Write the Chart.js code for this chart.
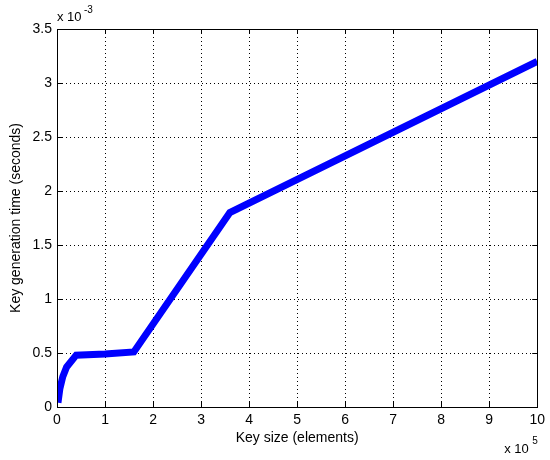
<!DOCTYPE html>
<html>
<head>
<meta charset="utf-8">
<script src="https://cdn.jsdelivr.net/npm/chart.js@4.4.0/dist/chart.umd.min.js"></script>
<style>
    html, body { margin: 0; padding: 0; background: #fff; }
    #wrap { width: 550px; height: 460px; }
</style>
</head>
<body>
<div id="wrap"><canvas id="chartCanvas" width="550" height="460"></canvas></div>
<script>
// Key size in units of 1e5 elements, time in units of 1e-3 seconds
const keySize = [0.02, 0.06, 0.12, 0.2, 0.4, 1.0, 1.6, 3.6, 10];
const genTime = [0.04, 0.17, 0.28, 0.37, 0.48, 0.49, 0.51, 1.8, 3.2];
const xTicks = [0, 1, 2, 3, 4, 5, 6, 7, 8, 9, 10];
const yTicks = [0, 0.5, 1, 1.5, 2, 2.5, 3, 3.5];

const FONT = '"Liberation Sans", Arial, sans-serif';

// box, inward ticks and exponent labels (MATLAB style)
const matlabFrame = {
    id: 'matlabFrame',
    afterDatasetsDraw(chart) {
        const { ctx, chartArea: a, scales } = chart;
        ctx.save();
        ctx.strokeStyle = '#000';
        ctx.lineWidth = 1;
        ctx.beginPath();
        xTicks.forEach(v => {
            const x = Math.round(scales.x.getPixelForValue(v)) + 0.5;
            ctx.moveTo(x, a.bottom); ctx.lineTo(x, a.bottom - 5);
            ctx.moveTo(x, a.top); ctx.lineTo(x, a.top + 5);
        });
        yTicks.forEach(v => {
            const y = Math.round(scales.y.getPixelForValue(v)) + 0.5;
            ctx.moveTo(a.left, y); ctx.lineTo(a.left + 5, y);
            ctx.moveTo(a.right, y); ctx.lineTo(a.right - 5, y);
        });
        ctx.stroke();
        ctx.strokeRect(Math.round(a.left) + 0.5, Math.round(a.top) + 0.5,
            Math.round(a.right - a.left), Math.round(a.bottom - a.top));

        ctx.fillStyle = '#000';
        ctx.textBaseline = 'alphabetic';
        ctx.textAlign = 'left';
        ctx.font = '13px ' + FONT;
        ctx.fillText('x 10', a.left, a.top - 8);
        ctx.fillText('x 10', a.right - 33, a.bottom + 46);
        ctx.font = '10px ' + FONT;
        ctx.fillText('-3', a.left + 27, a.top - 16);
        ctx.fillText('5', a.right - 5, a.bottom + 37);
        ctx.restore();
    }
};

const ctx = document.getElementById('chartCanvas').getContext('2d');
new Chart(ctx, {
    type: 'line',
    data: {
        datasets: [{
            data: keySize.map((k, i) => ({ x: k, y: genTime[i] })),
            borderColor: '#0000ff',
            borderWidth: 7,
            borderCapStyle: 'butt',
            borderJoinStyle: 'miter',
            pointRadius: 0,
            tension: 0,
            fill: false
        }]
    },
    options: {
        responsive: false,
        animation: false,
        layout: { padding: { left: 0, top: 29, right: 11, bottom: 0 } },
        plugins: { legend: { display: false }, tooltip: { enabled: false } },
        scales: {
            x: {
                type: 'linear',
                min: 0, max: 10,
                afterFit(scale) { scale.height = 53; },
                afterBuildTicks(scale) { scale.ticks = xTicks.map(v => ({ value: v })); },
                ticks: { color: '#000', padding: 5, font: { size: 14, family: FONT }, callback: v => String(v) },
                grid: { color: '#000', drawTicks: false },
                border: { display: true, color: '#000', dash: [1, 3] },
                title: {
                    display: true, text: 'Key size (elements)', color: '#000',
                    font: { size: 14, family: FONT }, padding: { top: 0, bottom: 13 }
                }
            },
            y: {
                type: 'linear',
                min: 0, max: 3.5,
                afterFit(scale) { scale.width = 57; },
                afterBuildTicks(scale) { scale.ticks = yTicks.map(v => ({ value: v })); },
                ticks: { color: '#000', padding: 5, font: { size: 14, family: FONT }, callback: v => String(v) },
                grid: { color: '#000', drawTicks: false },
                border: { display: true, color: '#000', dash: [1, 3] },
                title: {
                    display: true, text: 'Key generation time (seconds)', color: '#000',
                    font: { size: 14, family: FONT }, padding: { top: 8, bottom: 0 }
                }
            }
        }
    },
    plugins: [matlabFrame]
});
</script>
</body>
</html>
